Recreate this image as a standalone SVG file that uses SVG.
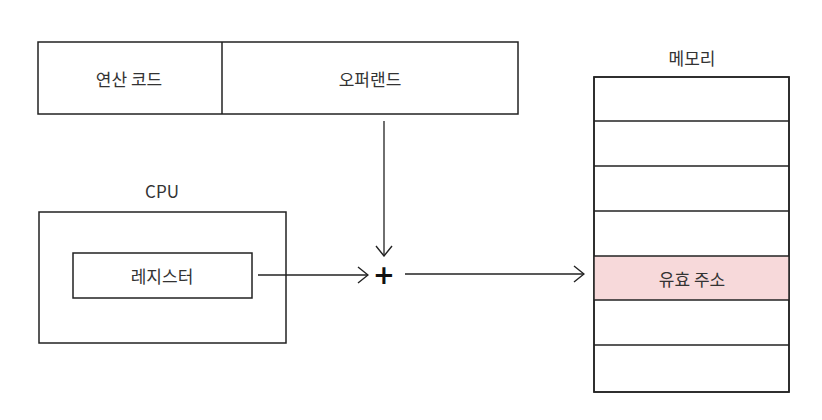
<svg xmlns="http://www.w3.org/2000/svg" width="822" height="420" viewBox="0 0 822 420">
  <style>
    .box { fill: #ffffff; stroke: #222222; stroke-width: 1.5; }
    .row { stroke: #222222; stroke-width: 1.5; fill: none; }
    .lbl { font-family: "Noto Sans CJK KR", "Noto Sans", sans-serif; font-size: 17px; fill: #333333; text-anchor: middle; dominant-baseline: central; }
    .wire { stroke: #222222; stroke-width: 1.3; fill: none; }
  </style>
  <defs>
    <marker id="head" viewBox="0 0 12 18" refX="11" refY="9" markerWidth="12" markerHeight="18" markerUnits="userSpaceOnUse" orient="auto">
      <path d="M1,1 L11,9 L1,17" fill="none" stroke="#222222" stroke-width="1.4"/>
    </marker>
  </defs>
  <rect width="822" height="420" fill="#ffffff"/>

  <!-- instruction word: opcode | operand -->
  <g id="instruction">
    <rect class="box" x="38" y="42" width="480" height="72"/>
    <line class="row" x1="222" y1="42" x2="222" y2="114"/>
    <text class="lbl" x="129" y="78">연산 코드</text>
    <text class="lbl" x="370" y="78">오퍼랜드</text>
  </g>

  <!-- CPU with register -->
  <g id="cpu">
    <text class="lbl" x="162" y="190">CPU</text>
    <rect class="box" x="39" y="212" width="247" height="131"/>
  </g>
  <g id="register">
    <rect class="box" x="73" y="253" width="179" height="45"/>
    <text class="lbl" x="162" y="275">레지스터</text>
  </g>

  <!-- adder -->
  <g id="adder">
    <text x="384" y="275" font-family="DejaVu Sans, sans-serif" font-size="26" font-weight="bold" fill="#111111" text-anchor="middle" dominant-baseline="central">+</text>
  </g>

  <!-- memory column -->
  <g id="memory">
    <text class="lbl" x="692" y="57">메모리</text>
    <rect class="box" x="594" y="77" width="195" height="315"/>
    <rect x="594" y="256" width="195" height="44" fill="#f7d9da"/>
    <line class="row" x1="594" y1="121" x2="789" y2="121"/>
    <line class="row" x1="594" y1="166" x2="789" y2="166"/>
    <line class="row" x1="594" y1="211" x2="789" y2="211"/>
    <line class="row" x1="594" y1="256" x2="789" y2="256"/>
    <line class="row" x1="594" y1="300" x2="789" y2="300"/>
    <line class="row" x1="594" y1="345" x2="789" y2="345"/>
    <rect class="row" x="594" y="77" width="195" height="315"/>
    <text class="lbl" x="692" y="278">유효 주소</text>
  </g>

  <!-- connectors -->
  <g id="connectors">
    <line class="wire" x1="384" y1="121" x2="384" y2="256" marker-end="url(#head)"/>
    <line class="wire" x1="258" y1="275" x2="368" y2="275" marker-end="url(#head)"/>
    <line class="wire" x1="405" y1="274" x2="584" y2="274" marker-end="url(#head)"/>
  </g>
</svg>
